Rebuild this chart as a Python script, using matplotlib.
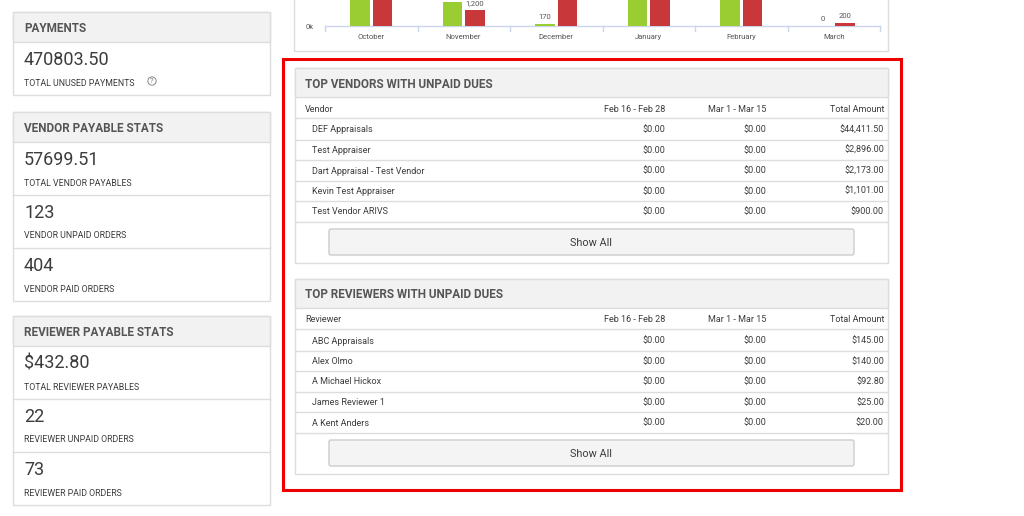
import matplotlib
matplotlib.use("Agg")
import matplotlib.pyplot as plt
from matplotlib.patches import Rectangle, FancyBboxPatch

plt.rcParams["font.family"] = ["Roboto", "DejaVu Sans"]
INK, SUB, LINE, HEAD = "#555555", "#3c3c3c", "#dddddd", "#f2f2f2"
GREEN, RED = "#9acd32", "#c8373a"

months = ["October", "November", "December", "January", "February", "March"]
paid = [3000, 1800, 170, 3000, 3000, 0]
unpaid = [3000, 1200, 3000, 3000, 3000, 200]
shown = {(1, 1): "1,200", (2, 0): "170", (5, 0): "0", (5, 1): "200"}

table_cols = ["Feb 16 - Feb 28", "Mar 1 - Mar 15", "Total Amount"]
vendors = ["DEF Appraisals", "Test Appraiser", "Dart Appraisal - Test Vendor",
           "Kevin Test Appraiser", "Test Vendor ARIVS"]
vendor_totals = ["$44,411.50", "$2,896.00", "$2,173.00", "$1,101.00", "$900.00"]
reviewers = ["ABC Appraisals", "Alex Olmo", "A Michael Hickox", "James Reviewer 1", "A Kent Anders"]
reviewer_totals = ["$145.00", "$140.00", "$92.80", "$25.00", "$20.00"]

fig = plt.figure(figsize=(10.24, 5.16), dpi=100)
ax = fig.add_axes([0, 0, 1, 1])
ax.set_xlim(0, 1024); ax.set_ylim(516, 0); ax.axis("off")

def rect(x0, y0, x1, y1, fc="white", ec=LINE, lw=1, z=1):
    ax.add_patch(Rectangle((x0, y0), x1 - x0, y1 - y0, fc=fc, ec=ec, lw=lw, zorder=z))

def hline(x0, x1, y, c=LINE, lw=1):
    ax.plot([x0, x1], [y, y], color=c, lw=lw, zorder=3)

# ---- left stat panels ----
def panel(y0, title, items):
    n = len(items)
    y1 = y0 + 30 + 53 * n
    rect(13, y0, 270, y1)
    rect(13, y0, 270, y0 + 30, fc=HEAD)
    ax.text(24, y0 + 16, title, fontsize=8.5, fontweight="bold", color=INK, va="center", zorder=4)
    for i, (val, lab) in enumerate(items):
        yb = y0 + 30 + 53 * i
        ax.text(24, yb + 18, val, fontsize=13, color=SUB, va="center", zorder=4)
        ax.text(24, yb + 41, lab, fontsize=6.3, color=SUB, va="center", zorder=4)
        if i < n - 1:
            hline(13, 270, yb + 53)

panel(12, "PAYMENTS", [("470803.50", "TOTAL UNUSED PAYMENTS")])
ax.text(152, 81, "?", fontsize=5.5, color="#777777", ha="center", va="center", zorder=5,
        bbox=dict(boxstyle="circle,pad=0.15", fc="white", ec="#888888", lw=0.7))
panel(112, "VENDOR PAYABLE STATS", [("57699.51", "TOTAL VENDOR PAYABLES"),
                                    ("123", "VENDOR UNPAID ORDERS"),
                                    ("404", "VENDOR PAID ORDERS")])
panel(316, "REVIEWER PAYABLE STATS", [("$432.80", "TOTAL REVIEWER PAYABLES"),
                                      ("22", "REVIEWER UNPAID ORDERS"),
                                      ("73", "REVIEWER PAID ORDERS")])

# ---- top chart (cut off) ----
ax.plot([294, 294, 888, 888], [0, 51, 51, 0], color=LINE, lw=1, zorder=2)
cax = fig.add_axes([325 / 1024, 1 - 26 / 516, 555 / 1024, 26 / 516])
cax.set_xlim(-0.5, 5.5); cax.set_ylim(0, 1950); cax.axis("off")
xs = range(len(months))
cax.bar([x - 0.12 for x in xs], paid, width=0.21, color=GREEN, clip_on=True)
cax.bar([x + 0.12 for x in xs], unpaid, width=0.21, color=RED, clip_on=True)
for (i, s), t in shown.items():
    v = paid[i] if s == 0 else unpaid[i]
    cax.annotate(t, (i - 0.12 + 0.24 * s, v), xytext=(0, 3), textcoords="offset points",
                 ha="center", va="bottom", fontsize=5.5, color=INK, annotation_clip=False)
hline(325, 880, 26, c="#ccd6eb")
for i in range(7):
    xx = 325 + 92.5 * i
    ax.plot([xx, xx], [26, 31], color="#ccd6eb", lw=1, zorder=3)
for i, m in enumerate(months):
    ax.text(371 + 92.6 * i, 37, m, fontsize=5.5, color=INK, ha="center", va="center", zorder=4)
ax.text(314, 27, "0k", fontsize=5.5, color=INK, ha="right", va="center", zorder=4)

# ---- highlighted tables ----
rect(283, 59, 901, 490, fc="none", ec="#ee0000", lw=2.2, z=6)
COLX = [665, 766, 884]

def table(y0, title, first, names, totals):
    rect(295, y0, 888, y0 + 195)
    rect(295, y0, 888, y0 + 29, fc=HEAD)
    ax.text(305, y0 + 16, title, fontsize=8.5, fontweight="bold", color=INK, va="center", zorder=4)
    ax.text(305, y0 + 41, first, fontsize=6.5, color=SUB, va="center", zorder=4)
    for x, c in zip(COLX, table_cols):
        ax.text(x, y0 + 41, c, fontsize=6.5, color=SUB, ha="right", va="center", zorder=4)
    hline(295, 888, y0 + 50)
    for i, (n, t) in enumerate(zip(names, totals)):
        yc = y0 + 62 + 20.5 * i
        ax.text(312, yc, n, fontsize=6.5, color=SUB, va="center", zorder=4)
        for x, v in zip(COLX, ["$0.00", "$0.00", t]):
            ax.text(x, yc, v, fontsize=6.5, color=SUB, ha="right", va="center", zorder=4)
        hline(295, 888, yc + 9.5)
    ax.add_patch(FancyBboxPatch((329, y0 + 161), 525, 26, boxstyle="round,pad=0,rounding_size=2",
                                fc="#f4f4f4", ec="#cccccc", lw=1, zorder=3))
    ax.text(591, y0 + 175, "Show All", fontsize=7.8, color=SUB, ha="center", va="center", zorder=4)

table(68, "TOP VENDORS WITH UNPAID DUES", "Vendor", vendors, vendor_totals)
table(279, "TOP REVIEWERS WITH UNPAID DUES", "Reviewer", reviewers, reviewer_totals)

fig.savefig("out.png", dpi=100)
